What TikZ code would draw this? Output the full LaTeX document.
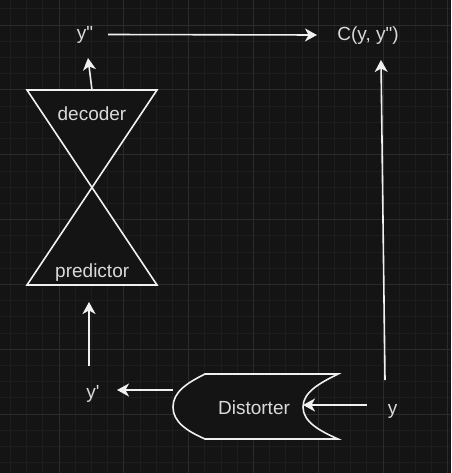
\documentclass[tikz,border=0pt]{standalone}
\usepackage{fontspec}
\newfontfamily\labfont{Liberation Sans}
\usetikzlibrary{arrows.meta}
\definecolor{bg}{HTML}{141414}
\definecolor{gminor}{HTML}{1D1D1D}
\definecolor{gmajor}{HTML}{2B2B2B}
\definecolor{ink}{HTML}{F0F0F0}
\definecolor{txt}{HTML}{DADADA}
\begin{document}
\begin{tikzpicture}[x=1pt,y=-1pt,
  shapeline/.style={draw=ink, line width=1.6pt, fill=bg, line join=miter},
  conn/.style={draw=ink, line width=1.6pt, -{Stealth[length=12pt,width=13pt,inset=3.5pt]}},
  lbl/.style={text=txt, font=\labfont\fontsize{19}{22}\selectfont, inner sep=0pt, text height=13.6pt, text depth=4pt},
  minorline/.style={draw=gminor, line width=1pt},
  majorline/.style={draw=gmajor, line width=1pt}]
\fill[bg] (0,0) rectangle (451,473);
\useasboundingbox (0,0) rectangle (451,473);
% grid
\foreach \i in {0,...,27} \draw[minorline] ({10.4+16.2*\i},0) -- ++(0,473);
\foreach \i in {0,...,28} \draw[minorline] (0,{9+16.2*\i}) -- ++(451,0);
\foreach \i in {0,...,6} \draw[majorline] ({59+64.8*\i},0) -- ++(0,473);
\foreach \i in {0,...,6} \draw[majorline] (0,{25.2+64.8*\i}) -- ++(451,0);
% hourglass triangles
\coordinate (dectl) at (27,90);
\coordinate (dectr) at (157,90);
\coordinate (waist) at (92,187.5);
\coordinate (predbl) at (27,285);
\coordinate (predbr) at (157,285);
\path[shapeline] (dectl) -- (dectr) -- (waist) -- cycle;
\path[shapeline] (waist) -- (predbr) -- (predbl) -- cycle;
% distorter shape
\path[shapeline] (205,374) -- (338,374)
  .. controls (320,383) and (303,392) .. (303,407)
  .. controls (303,422) and (320,431) .. (338,439)
  -- (205,439)
  .. controls (187,431) and (173,422) .. (173,407)
  .. controls (173,392) and (187,383) .. (205,374) -- cycle;
% labels
\node[lbl] (ypp) at (85,35.2) {y"};
\node[lbl] (cost) at (368,36.2) {C(y, y")};
\node[lbl] (dec) at (92,115.9) {decoder};
\node[lbl] (pred) at (92.2,272.5) {predictor};
\node[lbl] (yp) at (93,393.2) {y'};
\node[lbl] (dist) at (254,409.2) {Distorter};
\node[lbl] (y) at (392.5,409.2) {y};
% connector end points
\coordinate (dectop) at (92,90);
\coordinate (yppbot) at (88,58);
\coordinate (yppright) at (108,34.5);
\coordinate (costleft) at (317,35);
\coordinate (ytop) at (385,380);
\coordinate (costbot) at (381,60);
\coordinate (yleft) at (367,405);
\coordinate (distright) at (303,405);
\coordinate (distleft) at (173,390);
\coordinate (ypright) at (117,390);
\coordinate (yptop) at (89,366);
\coordinate (predbot) at (89,302);
% connectors
\draw[conn] (dectop) -- (yppbot);
\draw[conn] (yppright) -- (costleft);
\draw[conn] (ytop) -- (costbot);
\draw[conn] (yleft) -- (distright);
\draw[conn] (distleft) -- (ypright);
\draw[conn] (yptop) -- (predbot);
\end{tikzpicture}
\end{document}
